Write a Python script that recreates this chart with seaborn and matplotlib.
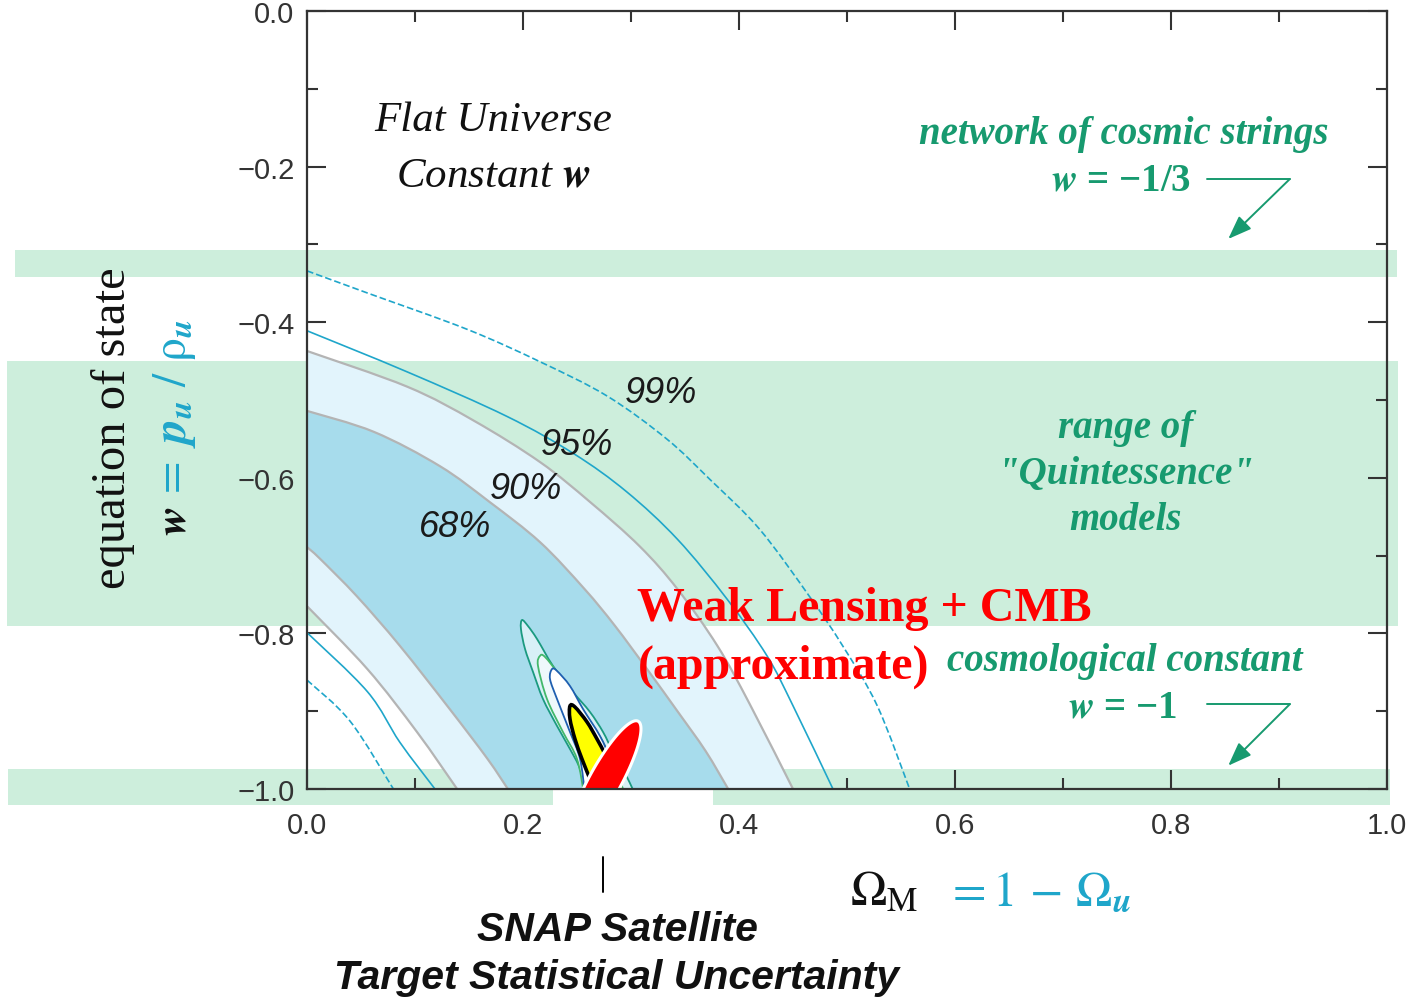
import numpy as np
import matplotlib
matplotlib.use("Agg")
import matplotlib.pyplot as plt
from matplotlib.patches import Rectangle, PathPatch
from matplotlib.path import Path
from matplotlib import transforms
import seaborn as sns

# ---- Constraint contours in the (Omega_M, w) plane -------------------------
# Each boundary runs from the w-axis (Omega_M = 0) down to w = -1.
om_68_outer = [0.000, 0.062, 0.123, 0.169, 0.216, 0.257, 0.285, 0.316, 0.343, 0.369, 0.390]
w_68_outer = [-0.514, -0.541, -0.585, -0.631, -0.683, -0.743, -0.790, -0.848, -0.900, -0.951, -1.000]
om_68_inner = [0.000, 0.012, 0.046, 0.086, 0.132, 0.167, 0.186]
w_68_inner = [-0.689, -0.704, -0.752, -0.816, -0.897, -0.961, -1.000]

om_90_outer = [0.000, 0.093, 0.155, 0.216, 0.262, 0.308, 0.343, 0.380, 0.410, 0.450]
w_90_outer = [-0.437, -0.483, -0.527, -0.580, -0.631, -0.688, -0.743, -0.816, -0.891, -1.000]
om_90_inner = [0.000, 0.056, 0.102, 0.139]
w_90_inner = [-0.765, -0.846, -0.927, -1.000]

om_95_outer = [0.000, 0.093, 0.185, 0.247, 0.296, 0.343, 0.389, 0.426, 0.450, 0.487]
w_95_outer = [-0.411, -0.464, -0.521, -0.569, -0.618, -0.679, -0.756, -0.829, -0.893, -1.000]
om_95_inner = [0.000, 0.056, 0.086, 0.1185]
w_95_inner = [-0.799, -0.875, -0.940, -1.000]

om_99_outer = [0.000, 0.056, 0.148, 0.216, 0.278, 0.333, 0.373, 0.419, 0.465, 0.496, 0.528, 0.558]
w_99_outer = [-0.334, -0.3625, -0.409, -0.451, -0.495, -0.550, -0.602, -0.666, -0.752, -0.816, -0.893, -1.000]
om_99_inner = [0.000, 0.040, 0.080]
w_99_inner = [-0.860, -0.913, -1.000]

# Confidence-level labels and where they sit
cl_labels = ["99%", "95%", "90%", "68%"]
cl_label_om = [0.328, 0.250, 0.203, 0.137]
cl_label_w = [-0.490, -0.557, -0.614, -0.663]

# ---- SNAP target contours (open outlines, closed below w = -1) -------------
snap_outer_om = [0.2583, 0.2528, 0.2435, 0.2315, 0.2185, 0.2093, 0.2019, 0.1981, 0.1991,
                 0.2046, 0.2130, 0.2278, 0.2463, 0.2620, 0.2741, 0.2833, 0.2926, 0.3037]
snap_outer_w = [-1.0064, -0.9743, -0.9486, -0.9190, -0.8843, -0.8496, -0.8201, -0.7943, -0.7828,
                -0.7905, -0.8072, -0.8419, -0.8753, -0.9010, -0.9267, -0.9524, -0.9743, -1.0064]
snap_mid_om = [0.2565, 0.2500, 0.2370, 0.2222, 0.2139, 0.2157,
               0.2204, 0.2343, 0.2528, 0.2685, 0.2806, 0.2944]
snap_mid_w = [-1.0064, -0.9614, -0.9267, -0.8843, -0.8419, -0.8290,
              -0.8303, -0.8548, -0.8933, -0.9267, -0.9576, -1.0064]
snap_inner_om = [0.2574, 0.2528, 0.2435, 0.2315, 0.2250, 0.2269,
                 0.2315, 0.2435, 0.2556, 0.2713, 0.2806, 0.2907]
snap_inner_w = [-1.0064, -0.9614, -0.9267, -0.8843, -0.8586, -0.8458,
                -0.8483, -0.8676, -0.8972, -0.9319, -0.9614, -1.0064]
snap_core_om = [0.2620, 0.2546, 0.2481, 0.2435, 0.2435, 0.2481, 0.2593, 0.2685, 0.2759, 0.2824]
snap_core_w = [-0.9871, -0.9614, -0.9357, -0.9100, -0.8933, -0.8946, -0.9139, -0.9357, -0.9550, -0.9743]

# Weak lensing + CMB ellipse: centre and conjugate semi-axis vectors
wl_center = (0.276, -0.990)
wl_major = (0.0306, 0.0771)
wl_minor = (-0.0130, 0.0099)

# Horizontal bands of theoretical w values (w upper, w lower)
band_w = [(-0.307, -0.342), (-0.450, -0.790), (-0.974, -1.021)]

# SNAP Omega_M target marker
snap_om = [0.274, 0.274]
snap_mark_w = [-1.087, -1.132]

# Pointer leader lines (Omega_M span, w level, arrow tip)
leader_om = [0.833, 0.910]
leader_w = [-0.216, -0.891]
arrow_tip = [(0.853, -0.293), (0.853, -0.970)]

# ---- Styling ----------------------------------------------------------------
sns.set_theme(style="ticks")
plt.rcParams["font.family"] = ["Liberation Sans", "DejaVu Sans"]
plt.rcParams["mathtext.fontset"] = "stix"

C_BLUE = "#a7dcec"
C_LBLUE = "#e2f4fc"
C_GRAY = "#b4b4b4"
C_CYAN = "#1fa6ca"
C_BAND = "#cdeedc"
C_GREEN = "#179a6f"
C_TICK = "#333333"
MINUS = "\u2212"

W, H = 1408, 1003
fig = plt.figure(figsize=(W / 100, H / 100), dpi=100)
fig.patch.set_facecolor("white")
ax = fig.add_axes([307 / W, 1 - 790 / H, 1080 / W, 778 / H])
ax.set_facecolor("none")
ax.set_xlim(0, 1)
ax.set_ylim(-1, 0)

# Bands span beyond the axes horizontally
band_x = [(15 / W, 1397 / W), (7 / W, 1398 / W), (8 / W, 1390 / W)]
btrans = transforms.blended_transform_factory(fig.transFigure, ax.transData)
for (x0, x1), (wt, wb) in zip(band_x, band_w):
    fig.add_artist(Rectangle((x0, wb), x1 - x0, wt - wb, transform=btrans,
                             facecolor=C_BAND, edgecolor="none", zorder=-2))
# white gap under the ellipse on the lower band
fig.add_artist(Rectangle((0.228, -1.021), 0.148, 0.021, transform=ax.transData,
                         facecolor="white", edgecolor="none", zorder=-1))


def smooth_segments(xs, ys):
    """Cubic Bezier (Catmull-Rom) vertices passing through every given point."""
    p = np.column_stack([xs, ys]).astype(float)
    n = len(p)
    verts = [p[0]]
    for i in range(n - 1):
        p0 = p[i - 1] if i > 0 else p[i]
        p1, p2 = p[i], p[i + 1]
        p3 = p[i + 2] if i + 2 < n else p[i + 1]
        verts += [p1 + (p2 - p0) / 6.0, p2 - (p3 - p1) / 6.0, p2]
    codes = [Path.MOVETO] + [Path.CURVE4] * (3 * (n - 1))
    return verts, codes


def curve_path(xs, ys):
    v, c = smooth_segments(xs, ys)
    return Path(v, c)


def closed_path(xs, ys):
    v, c = smooth_segments(xs, ys)
    return Path(v + [v[0]], c + [Path.CLOSEPOLY])


def ring_path(om_out, w_out, om_in, w_in):
    v1, c1 = smooth_segments(om_out, w_out)
    v2, c2 = smooth_segments(om_in[::-1], w_in[::-1])
    c2 = [Path.LINETO] + c2[1:]
    return Path(v1 + v2 + [v1[0]], c1 + c2 + [Path.CLOSEPOLY])


# Filled confidence regions
ax.add_patch(PathPatch(ring_path(om_90_outer, w_90_outer, om_90_inner, w_90_inner),
                       facecolor=C_LBLUE, edgecolor="none", zorder=1))
ax.add_patch(PathPatch(ring_path(om_68_outer, w_68_outer, om_68_inner, w_68_inner),
                       facecolor=C_BLUE, edgecolor="none", zorder=1.1))

# Boundary lines
for om, w in [(om_90_outer, w_90_outer), (om_90_inner, w_90_inner),
              (om_68_outer, w_68_outer), (om_68_inner, w_68_inner)]:
    ax.add_patch(PathPatch(curve_path(om, w), fill=False, edgecolor=C_GRAY, lw=1.6, zorder=2))
for om, w in [(om_95_outer, w_95_outer), (om_95_inner, w_95_inner)]:
    ax.add_patch(PathPatch(curve_path(om, w), fill=False, edgecolor=C_CYAN, lw=1.2, zorder=2))
for om, w in [(om_99_outer, w_99_outer), (om_99_inner, w_99_inner)]:
    ax.add_patch(PathPatch(curve_path(om, w), fill=False, edgecolor=C_CYAN, lw=1.2,
                           linestyle=(0, (4, 1.8)), zorder=2))

for lab, x, y in zip(cl_labels, cl_label_om, cl_label_w):
    ax.text(x, y, lab, fontsize=26, style="italic", color="#1a1a1a",
            ha="center", va="center", zorder=3)

# SNAP contours
ax.add_patch(PathPatch(closed_path(snap_outer_om, snap_outer_w), facecolor="#d8f0f7",
                       edgecolor="#1b9a80", lw=1.3, zorder=4))
ax.add_patch(PathPatch(closed_path(snap_mid_om, snap_mid_w), facecolor="#eef8fb",
                       edgecolor="#43b86a", lw=1.3, zorder=4.1))
ax.add_patch(PathPatch(closed_path(snap_inner_om, snap_inner_w), facecolor="white",
                       edgecolor="#1f5fb0", lw=1.3, zorder=4.2))
ax.add_patch(PathPatch(closed_path(snap_core_om, snap_core_w), facecolor="#ffff00",
                       edgecolor="black", lw=2.6, zorder=4.3))

# Weak lensing + CMB ellipse
t = np.linspace(0, 2 * np.pi, 200)
ex = wl_center[0] + np.cos(t) * wl_major[0] + np.sin(t) * wl_minor[0]
ey = wl_center[1] + np.cos(t) * wl_major[1] + np.sin(t) * wl_minor[1]
ax.fill(ex, ey, facecolor="#ff0000", edgecolor="white", lw=2.2, zorder=5)

# ---- Axes, ticks ------------------------------------------------------------
xt = np.round(np.arange(0, 1.01, 0.2), 1)
yt = np.round(np.arange(-1, 0.01, 0.2), 1)
ax.set_xticks(xt)
ax.set_xticks(np.arange(0, 1.01, 0.1), minor=True)
ax.set_yticks(yt)
ax.set_yticks(np.arange(-1, 0.01, 0.1), minor=True)
ax.set_xticklabels([f"{v:.1f}" for v in xt])
ax.set_yticklabels([(MINUS + f"{abs(v):.1f}") if v < 0 else "0.0" for v in yt])
ax.tick_params(which="both", direction="in", top=True, right=True,
               color=C_TICK, width=1.5, labelsize=21, labelcolor=C_TICK)
ax.tick_params(axis="x", pad=16)
ax.tick_params(axis="y", pad=9)
ax.tick_params(which="major", length=14)
ax.tick_params(which="minor", length=8)
for sp in ax.spines.values():
    sp.set_color(C_TICK)
    sp.set_linewidth(1.6)
    sp.set_zorder(6)

# ---- Annotations ------------------------------------------------------------
serif = ["Liberation Serif", "DejaVu Serif"]
ax.text(0.172, -0.140, "Flat Universe", family=serif, style="italic", fontsize=31,
        ha="center", va="center", color="#111111")
ax.text(0.172, -0.211, r"Constant $\mathbfit{w}$", family=serif, style="italic", fontsize=31,
        ha="center", va="center", color="#111111")

gkw = dict(family=serif, style="italic", weight="bold", fontsize=28, color=C_GREEN,
           ha="center", va="center")
ax.text(0.756, -0.158, "network of cosmic strings", **gkw)
ax.text(0.758, -0.535, "range of", **gkw)
ax.text(0.758, -0.594, '"Quintessence"', **gkw)
ax.text(0.758, -0.654, "models", **gkw)
ax.text(0.757, -0.835, "cosmological constant", **gkw)
ax.text(0.819, -0.217, r"$\mathbfit{w}$" + " = " + MINUS + "1/3", family=serif, weight="bold",
        fontsize=28, color=C_GREEN, ha="right", va="center")
ax.text(0.806, -0.895, r"$\mathbfit{w}$" + " = " + MINUS + "1", family=serif, weight="bold",
        fontsize=28, color=C_GREEN, ha="right", va="center")

# Pointer arrows
for wy, tip in zip(leader_w, arrow_tip):
    sns.lineplot(x=leader_om, y=[wy, wy], color=C_GREEN, lw=1.4, ax=ax, zorder=6)
    ax.lines[-1].set_clip_on(False)
    ax.annotate("", xy=tip, xytext=(leader_om[1], wy),
                arrowprops=dict(arrowstyle="-|>,head_length=1.2,head_width=0.45",
                                color=C_GREEN, lw=1.4, shrinkA=0, shrinkB=0), zorder=6)

ax.text(0.306, -0.767, "Weak Lensing + CMB", family=serif, weight="bold", fontsize=34.5,
        color="#ff0000", ha="left", va="center", zorder=7)
ax.text(0.306, -0.842, "(approximate)", family=serif, weight="bold", fontsize=34.5,
        color="#ff0000", ha="left", va="center", zorder=7)

# SNAP marker below the axis
sns.lineplot(x=snap_om, y=snap_mark_w, sort=False, estimator=None, color="black", lw=1.4, ax=ax)
ax.lines[-1].set_clip_on(False)
fig.text(617 / W, 1 - 930 / H, "SNAP Satellite", fontsize=29.5, weight="bold", style="italic",
         ha="center", va="center", color="#111111")
fig.text(617 / W, 1 - 978 / H, "Target Statistical Uncertainty", fontsize=29.5, weight="bold",
         style="italic", ha="center", va="center", color="#111111")

# Axis titles
fig.text(113 / W, 1 - 428 / H, "equation of state", family=serif, fontsize=35,
         rotation=90, ha="center", va="center", color="#111111")
fig.text(186 / W, 1 - 536 / H, r"$\mathbfit{w}$", fontsize=32, rotation=90,
         rotation_mode="anchor", ha="left", va="baseline", color="#111111")
fig.text(186 / W, 1 - 500 / H,
         r"$=\ \mathbfit{p}_{\mathbfit{u}}\ /\ \mathrm{\rho}_{\mathbfit{u}}$",
         fontsize=34, rotation=90, rotation_mode="anchor", ha="left", va="baseline", color=C_CYAN)

fig.text(918 / W, 1 - 905 / H, r"$\Omega_{\mathrm{M}}$", fontsize=35, ha="right",
         va="baseline", color="#111111")
fig.text(945 / W, 1 - 905 / H, r"$= 1\,-\,\Omega_{\mathbfit{u}}$", fontsize=35, ha="left",
         va="baseline", color=C_CYAN)

ax.set_xlabel("")
ax.set_ylabel("")
fig.savefig("out.png", dpi=100, facecolor="white")
